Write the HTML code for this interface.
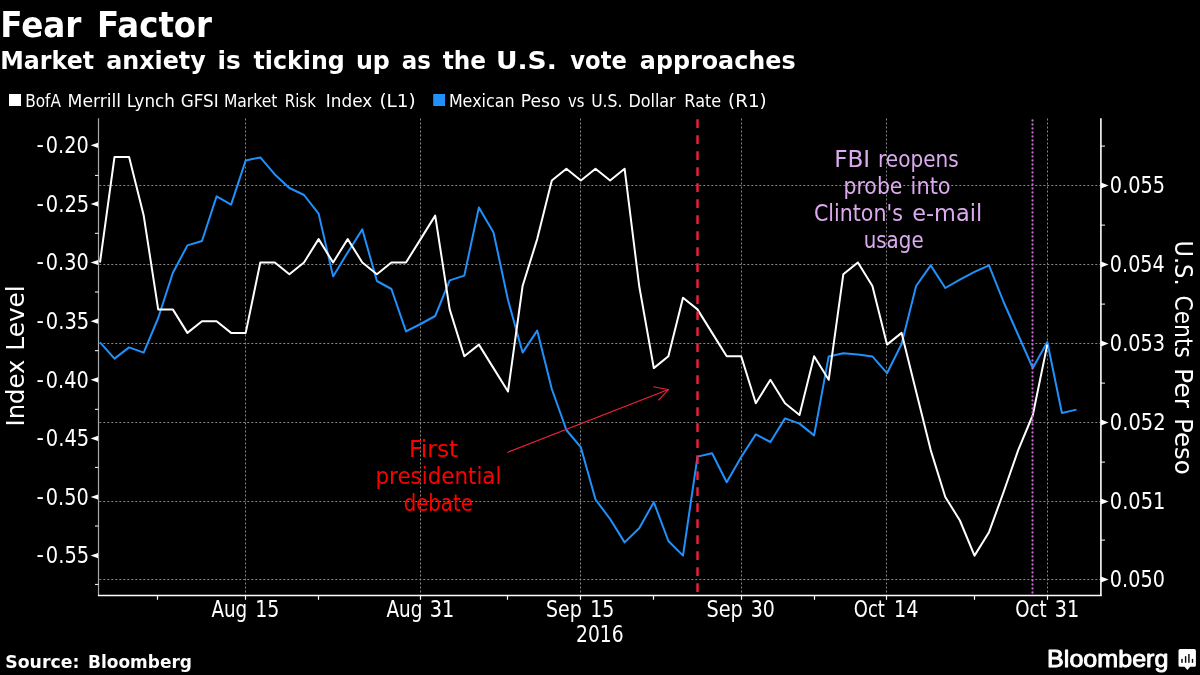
<!DOCTYPE html>
<html lang="en"><head><meta charset="utf-8"><title>Fear Factor</title>
<style>
html,body{margin:0;padding:0;background:#000;}
body{width:1200px;height:675px;overflow:hidden;}
#wrap{width:1200px;height:675px;will-change:transform;background:#000;}
svg{display:block;font-family:"DejaVu Sans", "Liberation Sans", sans-serif;}
</style></head><body>
<div id="wrap">
<svg width="1200" height="675" viewBox="0 0 1200 675">
<rect x="0" y="0" width="1200" height="675" fill="#000"/>
<rect x="9" y="94" width="12" height="12" fill="#fff"/>
<rect x="433.2" y="94" width="11.8" height="12" fill="#2090fa"/>
<line x1="99.3" y1="185.5" x2="1100" y2="185.5" stroke="#868686" stroke-width="1" stroke-dasharray="2 2"/>
<line x1="99.3" y1="264.5" x2="1100" y2="264.5" stroke="#868686" stroke-width="1" stroke-dasharray="2 2"/>
<line x1="99.3" y1="343.5" x2="1100" y2="343.5" stroke="#868686" stroke-width="1" stroke-dasharray="2 2"/>
<line x1="99.3" y1="422.5" x2="1100" y2="422.5" stroke="#868686" stroke-width="1" stroke-dasharray="2 2"/>
<line x1="99.3" y1="501.5" x2="1100" y2="501.5" stroke="#868686" stroke-width="1" stroke-dasharray="2 2"/>
<line x1="99.3" y1="579.5" x2="1100" y2="579.5" stroke="#868686" stroke-width="1" stroke-dasharray="2 2"/>
<line x1="245.5" y1="118.5" x2="245.5" y2="595" stroke="#868686" stroke-width="1" stroke-dasharray="2 2"/>
<line x1="420.5" y1="118.5" x2="420.5" y2="595" stroke="#868686" stroke-width="1" stroke-dasharray="2 2"/>
<line x1="580.5" y1="118.5" x2="580.5" y2="595" stroke="#868686" stroke-width="1" stroke-dasharray="2 2"/>
<line x1="741.5" y1="118.5" x2="741.5" y2="595" stroke="#868686" stroke-width="1" stroke-dasharray="2 2"/>
<line x1="886.5" y1="118.5" x2="886.5" y2="595" stroke="#868686" stroke-width="1" stroke-dasharray="2 2"/>
<line x1="1047.5" y1="118.5" x2="1047.5" y2="595" stroke="#868686" stroke-width="1" stroke-dasharray="2 2"/>
<line x1="98.5" y1="118.3" x2="98.5" y2="596" stroke="#aaa" stroke-width="1.2"/>
<line x1="1100.9" y1="118.3" x2="1100.9" y2="596" stroke="#fff" stroke-width="1.6"/>
<line x1="97.9" y1="595.5" x2="1101.7" y2="595.5" stroke="#fff" stroke-width="1.3"/>
<polygon points="98,142.7 98,147.9 90.6,145.3" fill="#fff"/>
<line x1="95" y1="175.4" x2="98.5" y2="175.4" stroke="#fff" stroke-width="1"/>
<polygon points="98,201.3 98,206.5 90.6,203.9" fill="#fff"/>
<line x1="95" y1="233.3" x2="98.5" y2="233.3" stroke="#fff" stroke-width="1"/>
<polygon points="98,259.9 98,265.1 90.6,262.5" fill="#fff"/>
<line x1="95" y1="292.0" x2="98.5" y2="292.0" stroke="#fff" stroke-width="1"/>
<polygon points="98,318.6 98,323.8 90.6,321.2" fill="#fff"/>
<line x1="95" y1="350.7" x2="98.5" y2="350.7" stroke="#fff" stroke-width="1"/>
<polygon points="98,377.2 98,382.4 90.6,379.8" fill="#fff"/>
<line x1="95" y1="409.3" x2="98.5" y2="409.3" stroke="#fff" stroke-width="1"/>
<polygon points="98,435.8 98,441.0 90.6,438.4" fill="#fff"/>
<line x1="95" y1="467.4" x2="98.5" y2="467.4" stroke="#fff" stroke-width="1"/>
<polygon points="98,494.4 98,499.6 90.6,497.0" fill="#fff"/>
<line x1="95" y1="526.0" x2="98.5" y2="526.0" stroke="#fff" stroke-width="1"/>
<polygon points="98,553.0 98,558.2 90.6,555.6" fill="#fff"/>
<line x1="95" y1="584.4" x2="98.5" y2="584.4" stroke="#fff" stroke-width="1"/>
<polygon points="1101,182.6 1101,188.4 1108.6,185.5" fill="#fff"/>
<line x1="1100.7" y1="146.1" x2="1105" y2="146.1" stroke="#fff" stroke-width="1"/>
<polygon points="1101,261.6 1101,267.4 1108.6,264.5" fill="#fff"/>
<line x1="1100.7" y1="225.1" x2="1105" y2="225.1" stroke="#fff" stroke-width="1"/>
<polygon points="1101,340.6 1101,346.4 1108.6,343.5" fill="#fff"/>
<line x1="1100.7" y1="304.1" x2="1105" y2="304.1" stroke="#fff" stroke-width="1"/>
<polygon points="1101,419.6 1101,425.4 1108.6,422.5" fill="#fff"/>
<line x1="1100.7" y1="383.1" x2="1105" y2="383.1" stroke="#fff" stroke-width="1"/>
<polygon points="1101,498.6 1101,504.4 1108.6,501.5" fill="#fff"/>
<line x1="1100.7" y1="462.1" x2="1105" y2="462.1" stroke="#fff" stroke-width="1"/>
<polygon points="1101,576.6 1101,582.4 1108.6,579.5" fill="#fff"/>
<line x1="1100.7" y1="540.1" x2="1105" y2="540.1" stroke="#fff" stroke-width="1"/>
<line x1="245.5" y1="595" x2="245.5" y2="599.8" stroke="#fff" stroke-width="1.2"/>
<line x1="420.5" y1="595" x2="420.5" y2="599.8" stroke="#fff" stroke-width="1.2"/>
<line x1="580.5" y1="595" x2="580.5" y2="599.8" stroke="#fff" stroke-width="1.2"/>
<line x1="741.5" y1="595" x2="741.5" y2="599.8" stroke="#fff" stroke-width="1.2"/>
<line x1="886.5" y1="595" x2="886.5" y2="599.8" stroke="#fff" stroke-width="1.2"/>
<line x1="1047.5" y1="595" x2="1047.5" y2="599.8" stroke="#fff" stroke-width="1.2"/>
<line x1="157.5" y1="595" x2="157.5" y2="599.8" stroke="#fff" stroke-width="1.2"/>
<line x1="318.5" y1="595" x2="318.5" y2="599.8" stroke="#fff" stroke-width="1.2"/>
<line x1="507.5" y1="595" x2="507.5" y2="599.8" stroke="#fff" stroke-width="1.2"/>
<line x1="653.5" y1="595" x2="653.5" y2="599.8" stroke="#fff" stroke-width="1.2"/>
<line x1="814.5" y1="595" x2="814.5" y2="599.8" stroke="#fff" stroke-width="1.2"/>
<line x1="974.5" y1="595" x2="974.5" y2="599.8" stroke="#fff" stroke-width="1.2"/>
<polyline points="100.0,342.4 114.5,358.6 129.1,347.4 143.7,352.6 158.2,318.0 172.8,273.0 187.4,245.4 202.0,241.0 216.6,196.4 231.1,204.6 245.7,160.4 260.3,157.4 274.8,174.4 289.4,188.0 304.0,195.0 318.6,213.6 333.1,276.4 347.7,252.4 362.3,229.4 376.9,281.0 391.4,289.0 406.0,331.4 420.6,324.0 435.2,316.0 449.7,280.4 464.3,275.6 478.9,207.4 493.5,232.4 508.0,300.0 522.6,352.6 537.2,330.6 551.8,389.0 566.4,430.0 580.9,447.4 595.5,499.5 610.1,519.0 624.6,542.4 639.2,528.2 653.8,502.2 668.4,541.0 683.0,555.6 697.5,456.6 712.1,453.2 726.7,482.2 741.2,457.0 755.8,434.4 770.4,442.0 785.0,418.4 799.5,423.6 814.1,435.4 828.7,356.4 843.3,353.2 857.9,354.4 872.4,356.4 887.0,373.2 901.6,344.0 916.1,286.0 930.7,265.4 945.3,288.0 959.9,279.6 974.5,271.8 989.0,265.4 1003.6,302.0 1018.2,335.0 1032.8,368.0 1047.3,342.0 1061.9,413.0 1076.5,409.6" fill="none" stroke="#2090fa" stroke-width="2" stroke-linejoin="round"/>
<polyline points="100.0,262.5 114.5,157.0 129.1,157.0 143.7,215.6 158.2,309.4 172.8,309.4 187.4,332.9 202.0,321.2 216.6,321.2 231.1,332.9 245.7,332.9 260.3,262.5 274.8,262.5 289.4,274.3 304.0,262.5 318.6,239.1 333.1,262.5 347.7,239.1 362.3,262.5 376.9,274.3 391.4,262.5 406.0,262.5 420.6,239.1 435.2,215.6 449.7,309.4 464.3,356.3 478.9,344.6 493.5,368.1 508.0,391.5 522.6,286.0 537.2,239.1 551.8,180.5 566.4,168.7 580.9,180.5 595.5,168.7 610.1,180.5 624.6,168.7 639.2,286.0 653.8,368.1 668.4,356.3 683.0,297.7 697.5,309.4 712.1,332.9 726.7,356.3 741.2,356.3 755.8,403.2 770.4,379.8 785.0,403.2 799.5,415.0 814.1,356.3 828.7,379.8 843.3,274.3 857.9,262.5 872.4,286.0 887.0,344.6 901.6,332.9 916.1,391.5 930.7,450.1 945.3,497.0 959.9,520.5 974.5,555.6 989.0,532.2 1003.6,492.0 1018.2,450.1 1032.8,415.0 1047.3,344.6" fill="none" stroke="#fff" stroke-width="2" stroke-linejoin="round"/>
<line x1="697.5" y1="119.3" x2="697.5" y2="592" stroke="#fa1e3c" stroke-width="2.35" stroke-dasharray="8.6 7.4"/>
<line x1="1032.5" y1="120.5" x2="1032.5" y2="594" stroke="#c562d0" stroke-width="2.3" stroke-dasharray="0.01 3.99" stroke-linecap="round"/>
<g stroke="#f5203e" stroke-width="1.1" fill="none"><line x1="507.4" y1="452.4" x2="668.4" y2="389.5"/><polyline points="653.2,386.7 668.4,389.5 658.4,400.4"/></g>
<text y="37.0" font-size="34.7" font-weight="bold" fill="#fff"><tspan x="0.19" textLength="81.25" lengthAdjust="spacingAndGlyphs">Fear</tspan> <tspan x="97.12" textLength="114.98" lengthAdjust="spacingAndGlyphs">Factor</tspan></text>
<text y="68.6" font-size="25.6" font-weight="bold" fill="#fff"><tspan x="0.27" textLength="93.79" lengthAdjust="spacingAndGlyphs">Market</tspan> <tspan x="106.22" textLength="99.55" lengthAdjust="spacingAndGlyphs">anxiety</tspan> <tspan x="217.51" textLength="23.26" lengthAdjust="spacingAndGlyphs">is</tspan> <tspan x="253.52" textLength="91.20" lengthAdjust="spacingAndGlyphs">ticking</tspan> <tspan x="355.89" textLength="33.93" lengthAdjust="spacingAndGlyphs">up</tspan> <tspan x="401.85" textLength="29.13" lengthAdjust="spacingAndGlyphs">as</tspan> <tspan x="442.72" textLength="43.23" lengthAdjust="spacingAndGlyphs">the</tspan> <tspan x="495.91" textLength="60.91" lengthAdjust="spacingAndGlyphs">U.S.</tspan> <tspan x="570.31" textLength="56.54" lengthAdjust="spacingAndGlyphs">vote</tspan> <tspan x="639.82" textLength="155.78" lengthAdjust="spacingAndGlyphs">approaches</tspan></text>
<text y="107.0" font-size="17.8" font-weight="normal" fill="#fff"><tspan x="25.14" textLength="35.84" lengthAdjust="spacingAndGlyphs">BofA</tspan> <tspan x="67.56" textLength="53.61" lengthAdjust="spacingAndGlyphs">Merrill</tspan> <tspan x="126.80" textLength="48.07" lengthAdjust="spacingAndGlyphs">Lynch</tspan> <tspan x="180.71" textLength="37.98" lengthAdjust="spacingAndGlyphs">GFSI</tspan> <tspan x="223.92" textLength="53.46" lengthAdjust="spacingAndGlyphs">Market</tspan> <tspan x="284.77" textLength="31.07" lengthAdjust="spacingAndGlyphs">Risk</tspan> <tspan x="325.79" textLength="46.43" lengthAdjust="spacingAndGlyphs">Index</tspan> <tspan x="379.40" textLength="36.30" lengthAdjust="spacingAndGlyphs">(L1)</tspan></text>
<text y="107.0" font-size="17.8" font-weight="normal" fill="#fff"><tspan x="448.88" textLength="65.70" lengthAdjust="spacingAndGlyphs">Mexican</tspan> <tspan x="520.76" textLength="39.67" lengthAdjust="spacingAndGlyphs">Peso</tspan> <tspan x="568.04" textLength="16.37" lengthAdjust="spacingAndGlyphs">vs</tspan> <tspan x="591.13" textLength="31.25" lengthAdjust="spacingAndGlyphs">U.S.</tspan> <tspan x="628.38" textLength="47.30" lengthAdjust="spacingAndGlyphs">Dollar</tspan> <tspan x="684.37" textLength="36.92" lengthAdjust="spacingAndGlyphs">Rate</tspan> <tspan x="728.11" textLength="38.53" lengthAdjust="spacingAndGlyphs">(R1)</tspan></text>
<text y="667.6" font-size="17.6" font-weight="bold" fill="#fff"><tspan x="5.22" textLength="74.16" lengthAdjust="spacingAndGlyphs">Source:</tspan> <tspan x="88.00" textLength="104.00" lengthAdjust="spacingAndGlyphs">Bloomberg</tspan></text>
<text y="457.0" font-size="22.8" font-weight="normal" fill="#ff0000"><tspan x="409.04" textLength="49.20" lengthAdjust="spacingAndGlyphs">First</tspan></text>
<text y="484.0" font-size="22.8" font-weight="normal" fill="#ff0000"><tspan x="375.47" textLength="125.96" lengthAdjust="spacingAndGlyphs">presidential</tspan></text>
<text y="511.0" font-size="22.8" font-weight="normal" fill="#ff0000"><tspan x="403.77" textLength="68.98" lengthAdjust="spacingAndGlyphs">debate</tspan></text>
<text y="167.0" font-size="22.7" font-weight="normal" fill="#dcaaee"><tspan x="834.15" textLength="36.06" lengthAdjust="spacingAndGlyphs">FBI</tspan> <tspan x="878.08" textLength="80.56" lengthAdjust="spacingAndGlyphs">reopens</tspan></text>
<text y="194.0" font-size="22.7" font-weight="normal" fill="#dcaaee"><tspan x="843.45" textLength="59.01" lengthAdjust="spacingAndGlyphs">probe</tspan> <tspan x="910.61" textLength="40.07" lengthAdjust="spacingAndGlyphs">into</tspan></text>
<text y="221.0" font-size="22.7" font-weight="normal" fill="#dcaaee"><tspan x="813.92" textLength="88.98" lengthAdjust="spacingAndGlyphs">Clinton's</tspan> <tspan x="912.21" textLength="69.93" lengthAdjust="spacingAndGlyphs">e-mail</tspan></text>
<text y="248.0" font-size="22.7" font-weight="normal" fill="#dcaaee"><tspan x="863.70" textLength="59.92" lengthAdjust="spacingAndGlyphs">usage</tspan></text>
<text y="617.2" font-size="22.2" font-weight="normal" fill="#fff"><tspan x="211.44" textLength="35.82" lengthAdjust="spacingAndGlyphs">Aug</tspan> <tspan x="255.20" textLength="24.25" lengthAdjust="spacingAndGlyphs">15</tspan></text>
<text y="617.2" font-size="22.2" font-weight="normal" fill="#fff"><tspan x="386.44" textLength="36.04" lengthAdjust="spacingAndGlyphs">Aug</tspan> <tspan x="429.73" textLength="24.55" lengthAdjust="spacingAndGlyphs">31</tspan></text>
<text y="617.2" font-size="22.2" font-weight="normal" fill="#fff"><tspan x="545.97" textLength="35.70" lengthAdjust="spacingAndGlyphs">Sep</tspan> <tspan x="590.31" textLength="24.13" lengthAdjust="spacingAndGlyphs">15</tspan></text>
<text y="617.2" font-size="22.2" font-weight="normal" fill="#fff"><tspan x="706.45" textLength="36.34" lengthAdjust="spacingAndGlyphs">Sep</tspan> <tspan x="750.65" textLength="24.17" lengthAdjust="spacingAndGlyphs">30</tspan></text>
<text y="617.2" font-size="22.2" font-weight="normal" fill="#fff"><tspan x="853.74" textLength="31.12" lengthAdjust="spacingAndGlyphs">Oct</tspan> <tspan x="894.00" textLength="24.32" lengthAdjust="spacingAndGlyphs">14</tspan></text>
<text y="617.2" font-size="22.2" font-weight="normal" fill="#fff"><tspan x="1015.13" textLength="31.43" lengthAdjust="spacingAndGlyphs">Oct</tspan> <tspan x="1054.73" textLength="24.55" lengthAdjust="spacingAndGlyphs">31</tspan></text>
<text y="641.8" font-size="22.2" font-weight="normal" fill="#fff"><tspan x="575.99" textLength="47.59" lengthAdjust="spacingAndGlyphs">2016</tspan></text>
<g transform="translate(24.4,424.6) rotate(-90)"><text y="0.0" font-size="25.6" font-weight="normal" fill="#fff"><tspan x="-1.92" textLength="66.89" lengthAdjust="spacingAndGlyphs">Index</tspan> <tspan x="73.93" textLength="65.36" lengthAdjust="spacingAndGlyphs">Level</tspan></text></g>
<g transform="translate(1175,241.9) rotate(90)"><text y="0.0" font-size="25.6" font-weight="normal" fill="#fff"><tspan x="-1.53" textLength="45.21" lengthAdjust="spacingAndGlyphs">U.S.</tspan> <tspan x="53.57" textLength="62.42" lengthAdjust="spacingAndGlyphs">Cents</tspan> <tspan x="126.19" textLength="40.10" lengthAdjust="spacingAndGlyphs">Per</tspan> <tspan x="176.16" textLength="56.70" lengthAdjust="spacingAndGlyphs">Peso</tspan></text></g>
<text y="153.0" font-size="22.3" font-weight="normal" fill="#fff"><tspan x="36.43" dy="-1" textLength="7.38" lengthAdjust="spacingAndGlyphs">-</tspan><tspan x="45.85" dy="1" textLength="42.91" lengthAdjust="spacingAndGlyphs">0.20</tspan></text>
<text y="211.6" font-size="22.3" font-weight="normal" fill="#fff"><tspan x="36.43" dy="-1" textLength="7.38" lengthAdjust="spacingAndGlyphs">-</tspan><tspan x="45.84" dy="1" textLength="43.38" lengthAdjust="spacingAndGlyphs">0.25</tspan></text>
<text y="270.2" font-size="22.3" font-weight="normal" fill="#fff"><tspan x="36.43" dy="-1" textLength="7.38" lengthAdjust="spacingAndGlyphs">-</tspan><tspan x="45.85" dy="1" textLength="42.91" lengthAdjust="spacingAndGlyphs">0.30</tspan></text>
<text y="328.9" font-size="22.3" font-weight="normal" fill="#fff"><tspan x="36.43" dy="-1" textLength="7.38" lengthAdjust="spacingAndGlyphs">-</tspan><tspan x="45.84" dy="1" textLength="43.38" lengthAdjust="spacingAndGlyphs">0.35</tspan></text>
<text y="387.5" font-size="22.3" font-weight="normal" fill="#fff"><tspan x="36.43" dy="-1" textLength="7.38" lengthAdjust="spacingAndGlyphs">-</tspan><tspan x="45.85" dy="1" textLength="42.91" lengthAdjust="spacingAndGlyphs">0.40</tspan></text>
<text y="446.1" font-size="22.3" font-weight="normal" fill="#fff"><tspan x="36.43" dy="-1" textLength="7.38" lengthAdjust="spacingAndGlyphs">-</tspan><tspan x="45.84" dy="1" textLength="43.38" lengthAdjust="spacingAndGlyphs">0.45</tspan></text>
<text y="504.7" font-size="22.3" font-weight="normal" fill="#fff"><tspan x="36.43" dy="-1" textLength="7.38" lengthAdjust="spacingAndGlyphs">-</tspan><tspan x="45.85" dy="1" textLength="42.91" lengthAdjust="spacingAndGlyphs">0.50</tspan></text>
<text y="563.3" font-size="22.3" font-weight="normal" fill="#fff"><tspan x="36.43" dy="-1" textLength="7.38" lengthAdjust="spacingAndGlyphs">-</tspan><tspan x="45.84" dy="1" textLength="43.38" lengthAdjust="spacingAndGlyphs">0.55</tspan></text>
<text y="193.2" font-size="22.3" font-weight="normal" fill="#fff"><tspan x="1109.85" textLength="55.30" lengthAdjust="spacingAndGlyphs">0.055</tspan></text>
<text y="272.2" font-size="22.3" font-weight="normal" fill="#fff"><tspan x="1109.86" textLength="54.84" lengthAdjust="spacingAndGlyphs">0.054</tspan></text>
<text y="351.2" font-size="22.3" font-weight="normal" fill="#fff"><tspan x="1109.85" textLength="55.30" lengthAdjust="spacingAndGlyphs">0.053</tspan></text>
<text y="430.2" font-size="22.3" font-weight="normal" fill="#fff"><tspan x="1109.84" textLength="55.76" lengthAdjust="spacingAndGlyphs">0.052</tspan></text>
<text y="509.2" font-size="22.3" font-weight="normal" fill="#fff"><tspan x="1109.85" textLength="55.53" lengthAdjust="spacingAndGlyphs">0.051</tspan></text>
<text y="587.2" font-size="22.3" font-weight="normal" fill="#fff"><tspan x="1109.86" textLength="55.07" lengthAdjust="spacingAndGlyphs">0.050</tspan></text>
<text y="666.7" font-size="23.7" font-weight="normal" fill="#fff" font-family='"Liberation Sans", "DejaVu Sans", sans-serif' stroke="#fff" stroke-width="0.9" stroke-linejoin="round"><tspan x="1047.13" textLength="121.27" lengthAdjust="spacingAndGlyphs">Bloomberg</tspan></text>
<path d="M1180.1 649.1h14.2a1.6 1.6 0 0 1 1.6 1.6v14.5a1.6 1.6 0 0 1-1.6 1.6h-4.1l-2.8 3.3-2.9-3.3h-4.4a1.6 1.6 0 0 1-1.6-1.6v-14.5a1.6 1.6 0 0 1 1.6-1.6z" fill="#fff"/>
<rect x="1181.1" y="658.9" width="1.8" height="3.9" fill="#333"/>
<rect x="1184.9" y="656.2" width="1.4" height="6.6" fill="#000"/>
<rect x="1188.1" y="654.0" width="1.6" height="8.8" fill="#222"/>
<rect x="1191.8" y="658.9" width="1.4" height="3.9" fill="#000"/>
</svg>
</div>
</body></html>
